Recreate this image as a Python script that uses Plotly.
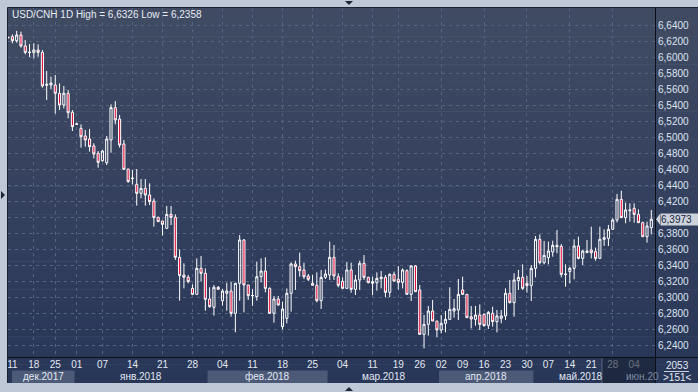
import plotly.graph_objects as go

# ---------------- data ----------------
open_ = [6.6240, 6.6254, 6.6204, 6.6275, 6.6138, 6.6060, 6.6054, 6.6088, 6.6058, 6.5646,
         6.5650, 6.5650, 6.5546, 6.5400, 6.5546, 6.5308, 6.5163, 6.5108, 6.5013, 6.4975,
         6.4888, 6.4796, 6.4704, 6.4679, 6.4963, 6.5367, 6.5225, 6.4913, 6.4600, 6.4486,
         6.4408, 6.4296, 6.4358, 6.4275, 6.4200, 6.3996, 6.3950, 6.3858, 6.4033, 6.3996,
         6.3496, 6.3275, 6.3246, 6.3108, 6.3033, 6.3358, 6.3296, 6.2975, 6.2871, 6.3121,
         6.2954, 6.3046, 6.3075, 6.2796, 6.3171, 6.3713, 6.3150, 6.3019, 6.3004, 6.3254,
         6.3325, 6.3108, 6.2796, 6.2975, 6.2629, 6.2733, 6.3046, 6.3413, 6.3379, 6.3338,
         6.3263, 6.3171, 6.3146, 6.2954, 6.3246, 6.3275, 6.3496, 6.3254, 6.3196, 6.3108,
         6.3338, 6.3096, 6.3213, 6.3421, 6.3246, 6.3171, 6.3179, 6.3229, 6.3246, 6.3058,
         6.3283, 6.3221, 6.3183, 6.3329, 6.3033, 6.3388, 6.3088, 6.2533, 6.2658, 6.2825,
         6.2700, 6.2588, 6.2671, 6.2721, 6.2825, 6.2838, 6.3088, 6.3033, 6.2754, 6.2721,
         6.2775, 6.2783, 6.2646, 6.2796, 6.2692, 6.2733, 6.2763, 6.3046, 6.2929, 6.3204,
         6.3246, 6.3171, 6.3142, 6.3358, 6.3721, 6.3429, 6.3492, 6.3563, 6.3646, 6.3633,
         6.3286, 6.3317, 6.3358, 6.3638, 6.3483, 6.3554, 6.3588, 6.3567, 6.3483, 6.3721,
         6.3733, 6.3846, 6.3963, 6.4221, 6.3992, 6.4079, 6.4108, 6.4033, 6.3929, 6.3754,
         6.3867]
high = [6.6252, 6.6283, 6.6326, 6.6317, 6.6213, 6.6163, 6.6171, 6.6158, 6.6088, 6.5825,
        6.5754, 6.5775, 6.5671, 6.5638, 6.5588, 6.5338, 6.5179, 6.5158, 6.5088, 6.5100,
        6.4921, 6.4825, 6.4838, 6.5013, 6.5408, 6.5450, 6.5275, 6.4963, 6.4600, 6.4588,
        6.4600, 6.4475, 6.4475, 6.4421, 6.4233, 6.4004, 6.3950, 6.4138, 6.4138, 6.4033,
        6.3596, 6.3421, 6.3275, 6.3158, 6.3483, 6.3513, 6.3358, 6.3121, 6.3150, 6.3137,
        6.3100, 6.3179, 6.3192, 6.3179, 6.3775, 6.3725, 6.3150, 6.3096, 6.3442, 6.3483,
        6.3496, 6.3121, 6.3013, 6.3013, 6.2942, 6.3108, 6.3433, 6.3454, 6.3554, 6.3429,
        6.3288, 6.3275, 6.3308, 6.3338, 6.3342, 6.3692, 6.3650, 6.3296, 6.3246, 6.3438,
        6.3429, 6.3275, 6.3454, 6.3525, 6.3254, 6.3254, 6.3308, 6.3325, 6.3275, 6.3296,
        6.3317, 6.3388, 6.3358, 6.3346, 6.3400, 6.3400, 6.3150, 6.2775, 6.2888, 6.2963,
        6.2700, 6.2775, 6.2825, 6.3121, 6.2975, 6.3225, 6.3254, 6.3033, 6.2888, 6.2888,
        6.2908, 6.2796, 6.2825, 6.2879, 6.2838, 6.2838, 6.3108, 6.3213, 6.3296, 6.3338,
        6.3408, 6.3263, 6.3400, 6.3763, 6.3783, 6.3700, 6.3692, 6.3704, 6.3838, 6.3663,
        6.3408, 6.3379, 6.3721, 6.3754, 6.3588, 6.3713, 6.3879, 6.3617, 6.3879, 6.3846,
        6.3900, 6.3983, 6.4288, 6.4329, 6.4179, 6.4171, 6.4171, 6.4096, 6.3942, 6.3942,
        6.4088]
low = [6.6232, 6.6171, 6.6179, 6.6117, 6.6033, 6.6000, 6.5983, 6.6004, 6.5617, 6.5463,
       6.5600, 6.5292, 6.5338, 6.5358, 6.5233, 6.5075, 6.5150, 6.4867, 6.4879, 6.4817,
       6.4733, 6.4617, 6.4692, 6.4650, 6.4804, 6.5158, 6.4867, 6.4592, 6.4429, 6.4408,
       6.4142, 6.4233, 6.4142, 6.4150, 6.3879, 6.3942, 6.3767, 6.3858, 6.3900, 6.3463,
       6.2954, 6.3108, 6.3171, 6.3033, 6.3033, 6.3192, 6.2829, 6.2867, 6.2767, 6.3096,
       6.2892, 6.2829, 6.2754, 6.2558, 6.2954, 6.2808, 6.2963, 6.2888, 6.2954, 6.3183,
       6.3058, 6.2796, 6.2679, 6.2892, 6.2596, 6.2671, 6.2817, 6.3088, 6.3254, 6.3225,
       6.3200, 6.3146, 6.2933, 6.2850, 6.3225, 6.3213, 6.3213, 6.3121, 6.3108, 6.3108,
       6.3054, 6.3025, 6.3088, 6.3213, 6.3171, 6.3025, 6.3079, 6.3108, 6.2996, 6.2996,
       6.3192, 6.3096, 6.3108, 6.3033, 6.2950, 6.3067, 6.2533, 6.2358, 6.2517, 6.2700,
       6.2496, 6.2546, 6.2558, 6.2713, 6.2742, 6.2713, 6.3025, 6.2742, 6.2608, 6.2642,
       6.2588, 6.2629, 6.2600, 6.2629, 6.2558, 6.2671, 6.2713, 6.2921, 6.2754, 6.3088,
       6.3088, 6.3054, 6.2950, 6.3246, 6.3408, 6.3408, 6.3408, 6.3504, 6.3546, 6.3246,
       6.3129, 6.3171, 6.3221, 6.3471, 6.3400, 6.3554, 6.3483, 6.3454, 6.3483, 6.3638,
       6.3638, 6.3838, 6.3933, 6.3992, 6.3921, 6.3942, 6.3929, 6.3929, 6.3754, 6.3679,
       6.3783]
close = [6.6246, 6.6204, 6.6275, 6.6138, 6.6058, 6.6058, 6.6088, 6.6058, 6.5638, 6.5658,
         6.5675, 6.5546, 6.5400, 6.5546, 6.5304, 6.5129, 6.5160, 6.5004, 6.4963, 6.4879,
         6.4788, 6.4683, 6.4825, 6.4975, 6.5367, 6.5213, 6.4900, 6.4596, 6.4442, 6.4483,
         6.4296, 6.4358, 6.4275, 6.4192, 6.3992, 6.3942, 6.3908, 6.4033, 6.3996, 6.3496,
         6.3267, 6.3246, 6.3192, 6.3033, 6.3358, 6.3296, 6.2971, 6.2879, 6.3121, 6.3096,
         6.3075, 6.3075, 6.2796, 6.3171, 6.3713, 6.3150, 6.3017, 6.3017, 6.3254, 6.3325,
         6.3108, 6.2796, 6.2975, 6.2900, 6.2850, 6.3046, 6.3413, 6.3379, 6.3329, 6.3254,
         6.3221, 6.3146, 6.2954, 6.3246, 6.3288, 6.3496, 6.3263, 6.3146, 6.3108, 6.3338,
         6.3096, 6.3213, 6.3421, 6.3246, 6.3179, 6.3192, 6.3233, 6.3246, 6.3058, 6.3283,
         6.3200, 6.3183, 6.3338, 6.3033, 6.3388, 6.3067, 6.2533, 6.2658, 6.2825, 6.2700,
         6.2588, 6.2671, 6.2721, 6.2846, 6.2854, 6.3033, 6.3033, 6.2742, 6.2725, 6.2775,
         6.2658, 6.2642, 6.2808, 6.2692, 6.2763, 6.2763, 6.3046, 6.2929, 6.3213, 6.3246,
         6.3108, 6.3142, 6.3358, 6.3721, 6.3429, 6.3521, 6.3575, 6.3646, 6.3629, 6.3283,
         6.3283, 6.3358, 6.3638, 6.3483, 6.3575, 6.3575, 6.3554, 6.3483, 6.3721, 6.3742,
         6.3846, 6.3963, 6.4221, 6.3992, 6.4088, 6.4088, 6.4033, 6.3929, 6.3754, 6.3888,
         6.3973]

bar_index = list(range(len(close)))

day_labels = ["11", "18", "25", "01", "07", "14", "21", "28", "04", "11", "18", "25", "04",
              "11", "19", "26", "02", "09", "16", "23", "30", "07", "14", "21", "28", "04"]
day_label_bar = [1, 6, 11, 16, 22, 29, 36, 43, 50, 57, 64, 71, 78,
                 85, 91, 96, 101, 106, 111, 116, 121, 126, 131, 136, 141, 146]
grid_bar = [6, 11, 16, 22, 29, 36, 43, 50, 57, 64, 71, 78, 85, 91, 101, 111, 121, 131, 141]

month_labels = ["дек.2017", "янв.2018", "фев.2018", "мар.2018", "апр.2018", "май.2018", "июн.20"]
month_start_bar = [0, 16, 47, 75, 101, 123, 145]
nav_start_bar = 139

price_ticks = [round(6.24 + 0.02 * i, 2) for i in range(21)]
hidden_price_tick = 6.40
title_text = "USD/CNH 1D High = 6,6326 Low = 6,2358"
last_price_text = "6,3973"
corner_top = "2053"
corner_bottom = ">151<"

# ---------------- geometry ----------------
W, H = 698, 392
ML, MR, MT, MB = 8, 43, 8, 35
PW, PH = W - ML - MR, H - MT - MB
XR = [-0.023, 150.86]
YR = [6.225, 6.66125]
FONT = "Liberation Sans, Arial"
GRID = dict(gridcolor="#56637f", griddash="3px,4px", gridwidth=1)


def px_x(px):
    return (px - ML) / PW


def px_y(py):
    return (H - MB - py) / PH


def bar_to_paper(b):
    return (b - XR[0]) / (XR[1] - XR[0])


shapes = []
# dark area with vertical gradient
top_c = (64, 75, 99)
bot_c = (40, 54, 88)
N = 40
y0, y1 = 8, 383
for i in range(N):
    t = i / (N - 1)
    c = tuple(int(round(top_c[k] + (bot_c[k] - top_c[k]) * t)) for k in range(3))
    ya = y0 + (y1 - y0) * i / N
    yb = y0 + (y1 - y0) * (i + 1) / N + 0.6
    shapes.append(dict(type="rect", xref="paper", yref="paper", layer="below",
                       x0=px_x(8), x1=px_x(698), y0=px_y(ya), y1=px_y(min(yb, y1)),
                       line=dict(width=0), fillcolor="rgb(%d,%d,%d)" % c))

# month bands (alternating lighter)
month_end_bar = month_start_bar[1:] + [XR[1]]
month_x0 = [max(bar_to_paper(s - 0.5), px_x(12)) for s in month_start_bar]
month_x1 = [min(bar_to_paper(e - 0.5), 1.0) for e in month_end_bar]
for i in range(len(month_labels)):
    if i % 2 == 0 and i < 6:
        shapes.append(dict(type="rect", xref="paper", yref="paper", layer="below",
                           x0=month_x0[i], x1=month_x1[i], y0=px_y(370.5), y1=px_y(383),
                           line=dict(width=0), fillcolor="rgb(76,90,120)"))

# frame lines
shapes.append(dict(type="line", xref="paper", yref="paper", layer="above",
                   x0=px_x(8), x1=px_x(698), y0=px_y(357.5), y1=px_y(357.5),
                   line=dict(color="#0c0f18", width=1)))
shapes.append(dict(type="line", xref="paper", yref="paper", layer="above",
                   x0=px_x(655.5), x1=px_x(655.5), y0=px_y(8), y1=px_y(383),
                   line=dict(color="#0c0f18", width=1)))
shapes.append(dict(type="line", xref="paper", yref="paper", layer="above",
                   x0=px_x(7.5), x1=px_x(7.5), y0=px_y(7.5), y1=px_y(383),
                   line=dict(color="#1a2030", width=1)))
shapes.append(dict(type="line", xref="paper", yref="paper", layer="above",
                   x0=px_x(7.5), x1=px_x(698), y0=px_y(7.5), y1=px_y(7.5),
                   line=dict(color="#1a2030", width=1)))

# dim overlay on the navigation region in the axis strip
shapes.append(dict(type="rect", xref="paper", yref="paper", layer="above",
                   x0=bar_to_paper(nav_start_bar - 0.5), x1=px_x(655),
                   y0=px_y(358), y1=px_y(383),
                   line=dict(width=0), fillcolor="rgba(24,32,52,0.62)"))
shapes.append(dict(type="line", xref="paper", yref="paper", layer="above",
                   x0=bar_to_paper(nav_start_bar - 0.5), x1=bar_to_paper(nav_start_bar - 0.5),
                   y0=px_y(358), y1=px_y(383),
                   line=dict(color="rgb(90,100,125)", width=1)))

# corner separator
shapes.append(dict(type="line", xref="paper", yref="paper", layer="above",
                   x0=px_x(664), x1=px_x(689), y0=px_y(371.5), y1=px_y(371.5),
                   line=dict(color="#c8d0de", width=1)))


def tri(points):
    return "M " + " L ".join("%f,%f" % (px_x(a), px_y(b)) for a, b in points) + " Z"


# last price tag arrow (y from the axis range)
yl = MT + (YR[1] - close[-1]) / (YR[1] - YR[0]) * PH
shapes.append(dict(type="path", xref="paper", yref="paper", layer="above",
                   path=tri([(656, yl), (660, yl - 5.5), (660, yl + 5.5)]),
                   line=dict(width=0), fillcolor="#cdd2db"))
# frame navigation triangles
shapes.append(dict(type="path", xref="paper", yref="paper", layer="above",
                   path=tri([(345, 1), (353, 1), (349, 5)]),
                   line=dict(width=0), fillcolor="#1c2436"))
shapes.append(dict(type="path", xref="paper", yref="paper", layer="above",
                   path=tri([(345, 391), (353, 391), (349, 387)]),
                   line=dict(width=0), fillcolor="#1c2436"))
shapes.append(dict(type="path", xref="paper", yref="paper", layer="above",
                   path=tri([(1, 191), (1, 199), (5, 195)]),
                   line=dict(width=0), fillcolor="#1c2436"))

annotations = []
annotations.append(dict(text=title_text, xref="paper", yref="paper", x=px_x(10), y=px_y(15),
                        xanchor="left", yanchor="middle", showarrow=False,
                        font=dict(family=FONT, size=10, color="#e6ebf3")))
for i, lab in enumerate(month_labels):
    if i == len(month_labels) - 1:
        xc = px_x(624)
        col = "#7d8aa3"
        xa = "left"
    else:
        xc = (month_x0[i] + month_x1[i]) / 2
        col = "#e2e8f2"
        xa = "center"
    annotations.append(dict(text=lab, xref="paper", yref="paper", x=xc, y=px_y(376.5),
                            xanchor=xa, yanchor="middle", showarrow=False,
                            font=dict(family=FONT, size=10, color=col)))
annotations.append(dict(text=last_price_text, xref="paper", yref="y", x=px_x(660), y=close[-1],
                        xanchor="left", yanchor="middle", showarrow=False, bgcolor="#cdd2db",
                        borderpad=0, width=37, height=11, align="left",
                        font=dict(family=FONT, size=10, color="#18223a")))
annotations.append(dict(text=corner_top, xref="paper", yref="paper", x=px_x(677), y=px_y(365),
                        xanchor="center", yanchor="middle", showarrow=False,
                        font=dict(family=FONT, size=10, color="#e2e8f2")))
annotations.append(dict(text=corner_bottom, xref="paper", yref="paper", x=px_x(677), y=px_y(377.5),
                        xanchor="center", yanchor="middle", showarrow=False,
                        font=dict(family=FONT, size=10, color="#e2e8f2")))

price_ticktext = ["" if abs(v - hidden_price_tick) < 1e-9 else ("%.4f" % v).replace(".", ",")
                  for v in price_ticks]

fig = go.Figure()
# invisible helper trace for the vertical grid axis
fig.add_trace(go.Scatter(x=[XR[0]], y=[YR[0]], xaxis="x2", mode="markers",
                         marker=dict(opacity=0), hoverinfo="skip", showlegend=False))
fig.add_trace(go.Candlestick(
    x=bar_index, open=open_, high=high, low=low, close=close,
    increasing=dict(line=dict(color="#ffffff", width=1), fillcolor="rgba(0,0,0,0)"),
    decreasing=dict(line=dict(color="#ffffff", width=1), fillcolor="#e0103c"),
    whiskerwidth=0, hoverinfo="skip", showlegend=False,
))

fig.update_layout(
    width=W, height=H,
    margin=dict(l=ML, r=MR, t=MT, b=MB, pad=0),
    paper_bgcolor="rgb(190,200,214)",
    plot_bgcolor="rgba(0,0,0,0)",
    shapes=shapes,
    annotations=annotations,
    showlegend=False,
    hovermode=False,
    xaxis=dict(range=XR, tickmode="array", tickvals=day_label_bar, ticktext=day_labels,
               showgrid=False, zeroline=False, showline=False, ticks="",
               tickfont=dict(family=FONT, size=10, color="#e2e8f2"),
               rangeslider=dict(visible=False), fixedrange=True),
    xaxis2=dict(range=XR, overlaying="x", side="bottom", tickmode="array", tickvals=grid_bar,
                showticklabels=False, showgrid=True, zeroline=False, showline=False,
                ticks="", fixedrange=True, **GRID),
    yaxis=dict(range=YR, side="right", tickmode="array", tickvals=price_ticks,
               ticktext=price_ticktext, showgrid=True, zeroline=False, showline=False,
               ticks="", ticklabelstandoff=2,
               tickfont=dict(family=FONT, size=10, color="#dde4f0"),
               fixedrange=True, **GRID),
)

fig.write_html("out.html", config=dict(displayModeBar=False, staticPlot=True))
